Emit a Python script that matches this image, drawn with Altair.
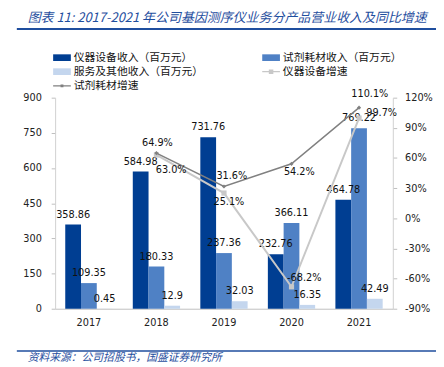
import altair as alt
import pandas as pd

# ---------------- data ----------------
years = ["2017", "2018", "2019", "2020", "2021"]
instrument_rev = [358.86, 584.98, 731.76, 232.76, 464.78]
reagent_rev = [109.35, 180.33, 237.36, 366.11, 769.22]
service_rev = [0.45, 12.9, 32.03, 16.35, 42.49]

growth_years = ["2018", "2019", "2020", "2021"]
instrument_growth = [63.0, 25.1, -68.2, 99.7]
reagent_growth = [64.9, 31.6, 54.2, 110.1]

series_names = ["仪器设备收入（百万元）", "试剂耗材收入（百万元）", "服务及其他收入（百万元）",
                "仪器设备增速", "试剂耗材增速"]
series_colors = ["#003e92", "#4f81c5", "#c4d6ee", "#c8c8c8", "#808080"]

left_ticks = [0, 150, 300, 450, 600, 750, 900]
right_ticks = [-90, -60, -30, 0, 30, 60, 90, 120]

title_text = "图表 11:  2017-2021 年公司基因测序仪业务分产品营业收入及同比增速"
source_text = "资料来源：公司招股书，国盛证券研究所"

# ---------------- tables ----------------
bar_rows = []
for name, vals in zip(series_names[:3], [instrument_rev, reagent_rev, service_rev]):
    for y, v in zip(years, vals):
        bar_rows.append({"year": y, "series": name, "value": v, "label": f"{v:g}"})
bar_df = pd.DataFrame(bar_rows)

line_rows = []
for name, vals in zip(series_names[3:], [instrument_growth, reagent_growth]):
    for y, v in zip(growth_years, vals):
        line_rows.append({"year": y, "series": name, "pct": v, "label": f"{v:.1f}%"})
line_df = pd.DataFrame(line_rows)

NUM_FONT = "Liberation Sans Narrow, Arial Narrow, DejaVu Sans Condensed, sans-serif"
CJK_FONT = "Noto Sans CJK SC"
BLUE = "#1f4e9e"

x_enc = alt.X("year:N",
              scale=alt.Scale(domain=years, paddingInner=0.3, paddingOuter=0.15),
              axis=alt.Axis(title=None, labelAngle=0, ticks=False, labelPadding=8,
                            domainColor="#bfbfbf", labelFont=NUM_FONT, labelFontSize=11,
                            labelColor="#222"))

y_left = alt.Y("value:Q",
               scale=alt.Scale(domain=[0, 900], nice=False, zero=True),
               axis=alt.Axis(title=None, orient="left", values=left_ticks, grid=False,
                             tickSize=4, tickColor="#bfbfbf", domainColor="#d0d0d0",
                             labelPadding=10, labelFont=NUM_FONT, labelFontSize=11,
                             labelColor="#222"))

y_right = alt.Y("pct:Q",
                scale=alt.Scale(domain=[-90, 120], nice=False, zero=False),
                axis=alt.Axis(title=None, orient="right", values=right_ticks, grid=False,
                              tickSize=4, tickColor="#bfbfbf", domainColor="#d0d0d0",
                              labelPadding=8, labelFont=NUM_FONT, labelFontSize=11,
                              labelColor="#222", labelExpr="datum.value + '%'"))

# legend symbols: 11px nominal symbol, paths drawn 18px wide
bar_path = "M-1.64,-0.62H1.64V0.62H-1.64Z"
line_sq_path = "M-1.64,-0.12H1.64V0.12H-1.64ZM-0.42,-0.42H0.42V0.42H-0.42Z"
line_dot_path = "M-1.64,-0.1H1.64V0.1H-1.64ZM-0.27,-0.27H0.27V0.27H-0.27Z"
symbol_expr = (f"datum.index == 3 ? '{line_sq_path}' : "
               f"(datum.index == 4 ? '{line_dot_path}' : '{bar_path}')")

legend = alt.Legend(title=None, orient="none", legendX=1.5, legendY=-46.5, columns=2,
                    direction="horizontal",
                    columnPadding=59, rowPadding=2.5, padding=0,
                    symbolType={"expr": symbol_expr}, symbolSize=121,
                    symbolStrokeWidth=0, labelFont=CJK_FONT, labelFontSize=11,
                    labelColor="#111", labelOffset=6.5)

color_enc = alt.Color("series:N",
                      scale=alt.Scale(domain=series_names, range=series_colors),
                      legend=legend)

xoff = alt.XOffset("series:N", scale=alt.Scale(domain=series_names[:3],
                                                paddingInner=0, paddingOuter=0))

bars = alt.Chart(bar_df).mark_bar().encode(x=x_enc, xOffset=xoff, y=y_left, color=color_enc)
bar_labels = alt.Chart(bar_df).mark_text(
    baseline="middle", dy=-10, font=NUM_FONT, fontSize=11, color="#111"
).encode(x=x_enc, xOffset=xoff, y=y_left, text="label:N")
bar_group = alt.layer(bars, bar_labels)

# growth lines
line_styles = {
    series_names[3]: dict(color="#c8c8c8", width=2, shape="square", size=28),
    series_names[4]: dict(color="#808080", width=1.5, shape="diamond", size=18),
}
label_offsets = {
    series_names[3]: {"2018": (15, 15), "2019": (5, 9), "2020": (13, -9), "2021": (23, -5)},
    series_names[4]: {"2018": (1, -10), "2019": (8, -11), "2020": (8, 8), "2021": (11, -14)},
}
line_layers = []
for name in series_names[3:]:
    st = line_styles[name]
    base = alt.Chart(line_df).transform_filter(alt.datum.series == name)
    line_layers.append(base.mark_line(color=st["color"], strokeWidth=st["width"])
                       .encode(x=x_enc, y=y_right))
    line_layers.append(base.mark_point(shape=st["shape"], size=st["size"], filled=True,
                                       color=st["color"], opacity=1)
                       .encode(x=x_enc, y=y_right))
for name in series_names[3:]:
    for yr in growth_years:
        dx, dy = label_offsets[name][yr]
        line_layers.append(
            alt.Chart(line_df)
            .transform_filter((alt.datum.series == name) & (alt.datum.year == yr))
            .mark_text(dx=dx, dy=dy, baseline="middle", font=NUM_FONT, fontSize=11,
                       color="#111")
            .encode(x=x_enc, y=y_right, text="label:N"))
line_group = alt.layer(*line_layers)

# decorations: title, rules, source
one = pd.DataFrame({"t": [title_text], "s": [source_text]})
title_mark = alt.Chart(one).mark_text(
    align="left", baseline="middle", font=CJK_FONT, fontSize=13.2, fontStyle="italic",
    color=BLUE).encode(x=alt.value(-28), y=alt.value(-81), text="t:N")
top_rule = alt.Chart(one).mark_rule(color=BLUE, strokeWidth=2).encode(
    x=alt.value(-39), x2=alt.value(388), y=alt.value(-70))
bottom_rule = alt.Chart(one).mark_rule(color=BLUE, strokeWidth=1.5).encode(
    x=alt.value(-39), x2=alt.value(388), y=alt.value(258))
source_mark = alt.Chart(one).mark_text(
    align="left", baseline="middle", font=CJK_FONT, fontSize=11, fontStyle="italic",
    color=BLUE).encode(x=alt.value(-28), y=alt.value(265), text="s:N")
deco = alt.layer(title_mark, top_rule, bottom_rule, source_mark)

chart = alt.layer(bar_group, line_group, deco).resolve_scale(y="independent").properties(
    width=344, height=215,
    autosize=alt.AutoSizeParams(type="none"),
    padding={"left": 48, "top": 88, "right": 44, "bottom": 56},
).configure_view(stroke=None)

chart.save("out.html", embed_options={"renderer": "svg", "actions": False})
